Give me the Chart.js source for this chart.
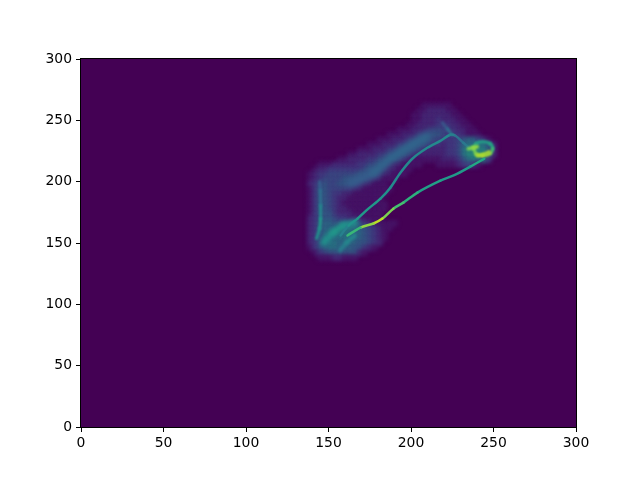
<!DOCTYPE html>
<html>
<head>
<meta charset="utf-8">
<style>
  html, body { margin: 0; padding: 0; background: #fff; }
  canvas { display: block; }
</style>
<script src="https://cdn.jsdelivr.net/npm/chart.js@4"></script>
</head>
<body>
<canvas id="myChart" width="640" height="480"></canvas>
<script>
// tick labels
const tickValues = [0, 50, 100, 150, 200, 250, 300];

// histogram cells, one row per y, levels 0-f
const cellStepX = 3;
const cellFirstX = 136;
const hazeY = [262, 258, 254, 250, 246, 242, 238, 234, 230, 226, 222, 218, 214, 210, 206, 202,
               198, 194, 190, 186, 182, 178, 174, 170, 166, 162, 158, 154, 150, 146, 142, 138];
const hazeStart = [24, 23, 22, 22, 21, 19, 17, 15, 13, 11, 9, 7, 3, 2, 1, 1,
                   1, 1, 1, 1, 1, 1, 1, 1, 1, 1, 1, 1, 1, 1, 2, 3];
const hazeLevels = [
  "111111",
  "11222211",
  "1122222211",
  "11222322211",
  "1122223332211",
  "1112223444332211",
  "1112223345543332111",
  "11122233455443334566431",
  "11122233455543323346777752",
  "1112223345554322223347888862",
  "112222334455432222223347999962",
  "1122223344554321111112223578873",
  "111222223344543221111000111123431",
  "12233333334544322111",
  "12334444445543322111",
  "123444455554322111",
  "2345445554322111",
  "13554444322111111",
  "1355433221111111",
  "135543221111111",
  "1355432111111111",
  "1355432211111111",
  "135553222111111",
  "234554332221111",
  "235665555543211111",
  "23566667776543211",
  "2356777776654321",
  "2357767776654321",
  "235777666655432",
  "13567766655321",
  "13455555521",
  "11122111"
];

// bright ridges of the histogram
const lowerX = [244.4, 235.9, 226.9, 217.8, 203.9, 195.4, 189.3, 182.7, 177.3, 169.4, 161.5];
const lowerY = [218.7, 212.2, 205.7, 200.8, 191.1, 182.9, 178, 169.9, 165.9, 162.6, 156.1];
const lowerLevel = [10, 8, 8, 8, 9, 10, 11, 13, 14, 11, 9];

const upperX = [157.3, 162.1, 167.6, 174.2, 181.5, 187.5, 193.6, 200.8, 209.9, 217.8, 223.8, 226.9, 231.7, 235.9];
const upperY = [156.1, 164.2, 169.9, 178, 186.2, 195.1, 207.3, 218.7, 227.6, 233.3, 238.2, 237.4, 231.7, 226.8];
const upperLevel = [6, 7, 8, 8, 8, 7, 7, 7, 7, 7, 7, 6, 5, 7];

const branchX = [219, 222, 225];
const branchY = [248, 243, 238];
const branchLevel = [3, 5, 6];

const ringX = [238, 239.5, 243.5, 248, 249.5, 248, 243.5, 239.5, 238];
const ringY = [227, 231, 232.5, 231, 227, 223, 221.3, 222.5, 227];
const ringLevel = [11, 9, 8, 9, 9, 12, 14, 13, 11];

const hotLeftX = [234.7, 237.5, 240.2];
const hotLeftY = [226.8, 227.6, 228.5];
const hotLeftLevel = [11, 13, 12];

const hotLowX = [240.2, 243.8, 247.4];
const hotLowY = [221.1, 222.4, 224.4];
const hotLowLevel = [12, 14, 12];

const stemX = [144.6, 145, 145.2, 145.2, 144.6, 142.8];
const stemY = [200, 192.7, 180.5, 169.9, 161.8, 153.7];
const stemLevel = [4, 5, 6, 8, 8, 7];

const bandX = [163.3, 177.3, 187.5, 199.6, 209.9];
const bandY = [198.4, 207.3, 218.7, 229.3, 237.4];
const bandLevel = [4, 5, 5, 5, 5];

const blobAX = [147, 153, 159, 166.4];
const blobAY = [150.4, 158.5, 164.2, 166.7];
const blobALevel = [7, 8, 8, 7];

const blobBX = [157, 161, 166];
const blobBY = [144, 150.4, 156];
const blobBLevel = [6, 7, 7];

const viridisStops = ['#440154', '#482475', '#414487', '#355f8d', '#2a788e', '#21918c',
                      '#22a884', '#44bf70', '#7ad151', '#bddf26', '#fde725'];

function hexToRgb(hex) {
    return [1, 3, 5].map(function (i) { return parseInt(hex.slice(i, i + 2), 16); });
}

function levelColor(level) {
    var t = level / 15 * (viridisStops.length - 1);
    var i = Math.min(Math.floor(t), viridisStops.length - 2);
    var a = hexToRgb(viridisStops[i]);
    var b = hexToRgb(viridisStops[i + 1]);
    var f = t - i;
    return 'rgb(' + a.map(function (v, k) { return Math.round(v + (b[k] - v) * f); }).join(',') + ')';
}

let hazePoints = [];
let hazeColors = [];
hazeLevels.forEach(function (row, r) {
    for (let c = 0; c < row.length; c++) {
        const level = parseInt(row[c], 16);
        if (level == 0) continue;
        hazePoints.push({ x: cellFirstX + cellStepX * (hazeStart[r] + c), y: hazeY[r] });
        hazeColors.push(levelColor(level));
    }
});

function ridge(xs, ys, levels, width, blur, order) {
    return {
        type: 'line',
        data: xs.map(function (x, i) { return { x: x, y: ys[i] }; }),
        borderWidth: width,
        pointRadius: 0,
        tension: 0.3,
        borderCapStyle: 'round',
        borderColor: levelColor(levels[0]),
        segment: {
            borderColor: function (ctx) {
                return levelColor((levels[ctx.p0DataIndex] + levels[ctx.p1DataIndex]) / 2);
            }
        },
        order: order,
        blur: blur
    };
}

const plotFrame = {
    id: 'plotFrame',
    beforeDatasetsDraw: function (chart) {
        const a = chart.chartArea;
        chart.ctx.fillStyle = viridisStops[0];
        chart.ctx.fillRect(a.left, a.top, a.right - a.left, a.bottom - a.top);
    },
    beforeDatasetDraw: function (chart, args) {
        chart.ctx.filter = 'blur(' + (args.meta.controller.getDataset().blur) + 'px)';
    },
    afterDatasetDraw: function (chart) {
        chart.ctx.filter = 'none';
    },
    afterDraw: function (chart) {
        const a = chart.chartArea;
        const ctx = chart.ctx;
        ctx.strokeStyle = '#000';
        ctx.lineWidth = 1;
        ctx.strokeRect(a.left - 0.5, a.top - 0.5, a.right - a.left + 1, a.bottom - a.top + 1);
    }
};

const tickFont = { family: "'DejaVu Sans'", size: 13.9 };

const myChart = new Chart(document.getElementById('myChart'), {
    type: 'scatter',
    data: {
        datasets: [
            {
                data: hazePoints,
                pointStyle: 'rect',
                pointRadius: 4,
                pointBorderWidth: 0,
                pointBackgroundColor: hazeColors,
                order: 10,
                blur: 2
            },
            ridge(bandX, bandY, bandLevel, 9, 3, 5),
            ridge(blobAX, blobAY, blobALevel, 6, 2, 4),
            ridge(blobBX, blobBY, blobBLevel, 4, 1.5, 4),
            ridge(stemX, stemY, stemLevel, 3, 1, 3),
            ridge(branchX, branchY, branchLevel, 3, 1, 3),
            ridge(upperX, upperY, upperLevel, 2.5, 0.6, 2),
            ridge(lowerX, lowerY, lowerLevel, 2.5, 0.5, 2),
            ridge(ringX, ringY, ringLevel, 3, 0.8, 2),
            ridge(hotLeftX, hotLeftY, hotLeftLevel, 3.5, 0.8, 1),
            ridge(hotLowX, hotLowY, hotLowLevel, 3, 0.8, 1)
        ]
    },
    options: {
        responsive: false,
        animation: false,
        events: [],
        layout: { padding: { left: 0, top: 59, right: 64, bottom: 0 } },
        plugins: { legend: { display: false }, tooltip: { enabled: false } },
        scales: {
            x: {
                type: 'linear',
                min: 0,
                max: 300,
                afterBuildTicks: function (s) { s.ticks = tickValues.map(function (v) { return { value: v }; }); },
                afterFit: function (s) { s.height = 53; },
                grid: { drawOnChartArea: false, tickLength: 5, tickColor: '#000' },
                border: { color: '#000' },
                ticks: { color: '#000', font: tickFont, padding: 3, maxRotation: 0, autoSkip: false }
            },
            y: {
                type: 'linear',
                min: 0,
                max: 300,
                afterBuildTicks: function (s) { s.ticks = tickValues.map(function (v) { return { value: v }; }); },
                afterFit: function (s) { s.width = 81; },
                grid: { drawOnChartArea: false, tickLength: 5, tickColor: '#000' },
                border: { color: '#000' },
                ticks: { color: '#000', font: tickFont, padding: 4, autoSkip: false }
            }
        }
    },
    plugins: [plotFrame]
});
</script>
</body>
</html>
